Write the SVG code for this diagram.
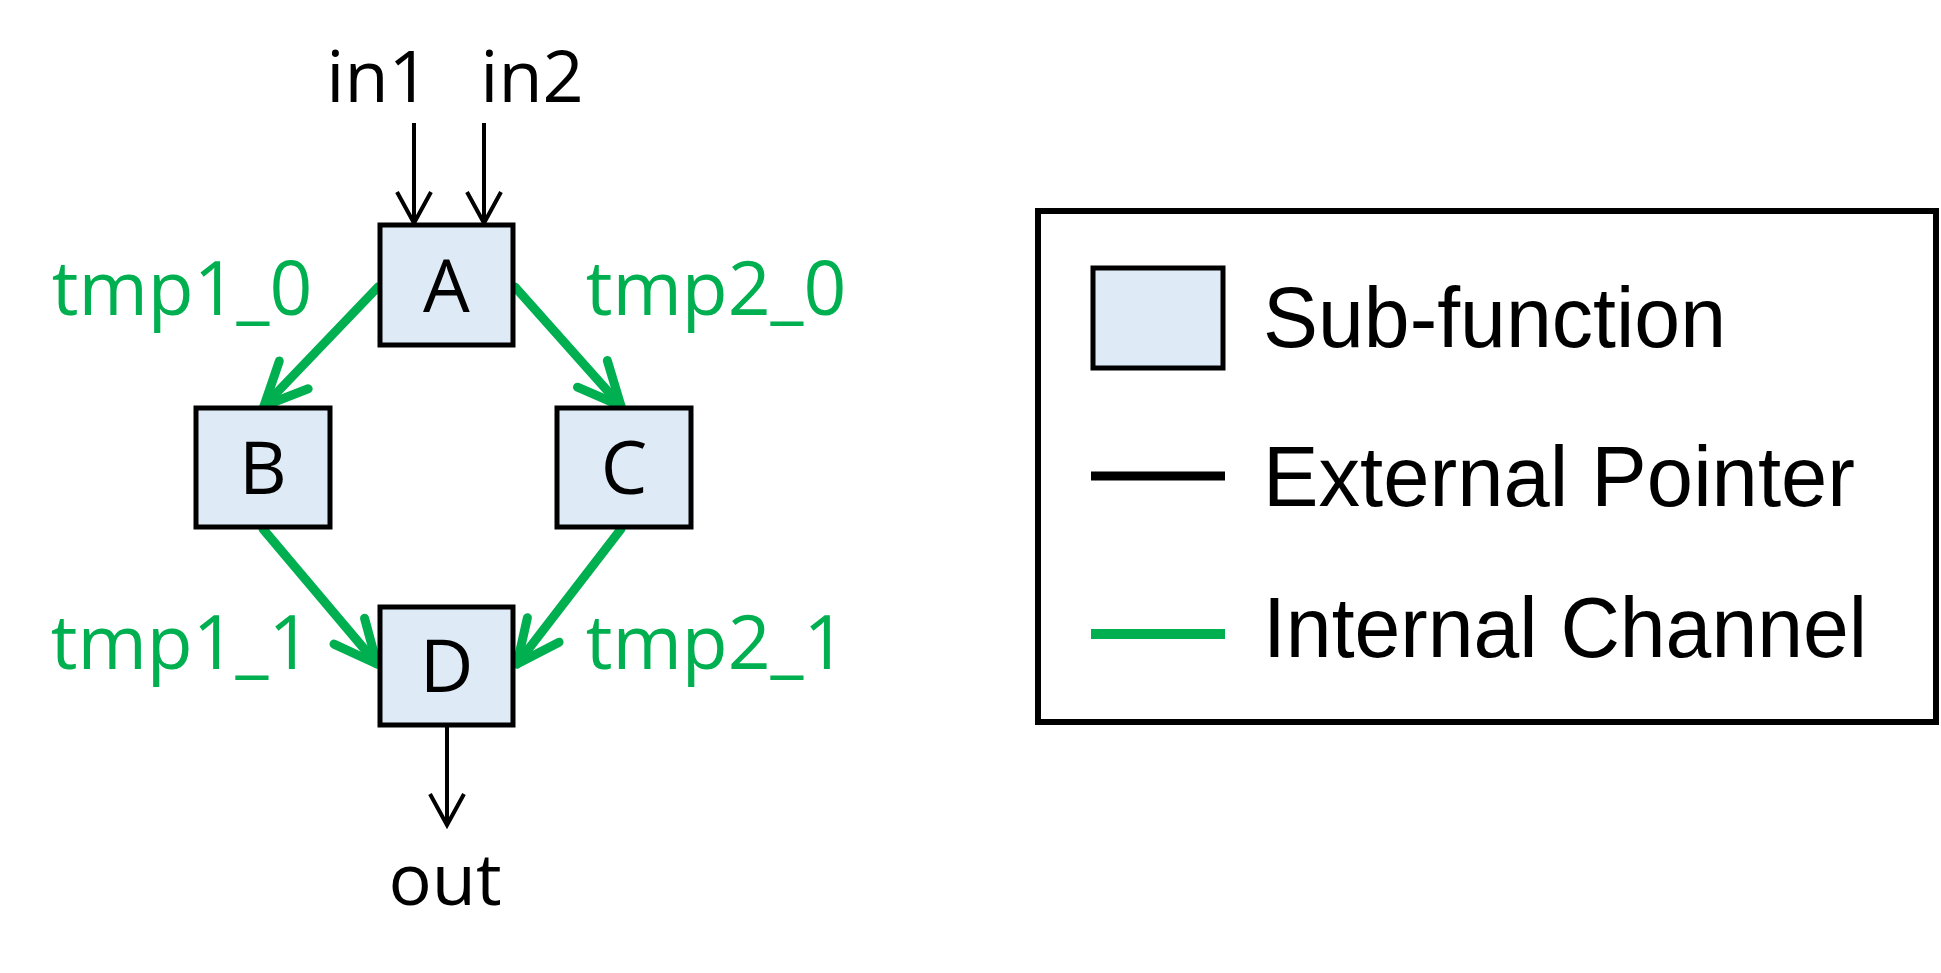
<svg xmlns="http://www.w3.org/2000/svg" width="1941" height="973" viewBox="0 0 1941 973">
<style>
.node{fill:#DEEAF6;stroke:#000;stroke-width:5}
.lbl{font-family:"Open Sans","Noto Sans",sans-serif;font-size:74px;fill:#000;text-anchor:middle}
.io{font-family:"Open Sans","Noto Sans",sans-serif;font-size:72px;fill:#000;text-anchor:middle}
.gl{font-family:"Open Sans","Noto Sans",sans-serif;font-size:75px;fill:#00B050;text-anchor:middle}
.ext{stroke:#000;stroke-width:4;fill:none}
.int{stroke:#00B050;stroke-width:9;fill:none;stroke-linecap:round}
.leg{font-family:"Liberation Sans",Arial,sans-serif;font-size:85px;fill:#000}
</style>
<defs>
<marker id="ah-ext" markerUnits="userSpaceOnUse" markerWidth="50" markerHeight="50" viewBox="-40 -25 50 50" refX="0" refY="0" orient="auto">
<path d="M -31 -17 L 0 0 L -31 17" fill="none" stroke="#000" stroke-width="4"/>
</marker>
<marker id="ah-int" markerUnits="userSpaceOnUse" markerWidth="70" markerHeight="70" viewBox="-55 -35 70 70" refX="0" refY="0" orient="auto">
<path d="M -43 -20 L 0 0 L -43 20" fill="none" stroke="#00B050" stroke-width="9" stroke-linecap="round" stroke-linejoin="round"/>
</marker>
</defs>

<g id="connectors">
<line class="ext" x1="414" y1="123" x2="414" y2="223" marker-end="url(#ah-ext)"/>
<line class="ext" x1="484" y1="123" x2="484" y2="223" marker-end="url(#ah-ext)"/>
<line class="ext" x1="447" y1="727" x2="447" y2="825" marker-end="url(#ah-ext)"/>
<line class="int" x1="378" y1="287" x2="264" y2="406" marker-end="url(#ah-int)"/>
<line class="int" x1="515" y1="287" x2="621" y2="406" marker-end="url(#ah-int)"/>
<line class="int" x1="263" y1="529" x2="377" y2="664" marker-end="url(#ah-int)"/>
<line class="int" x1="621" y1="529" x2="517" y2="664" marker-end="url(#ah-int)"/>
</g>

<g id="node-A"><rect class="node" x="380" y="225" width="133" height="120"/><text class="lbl" x="446.5" y="312">A</text></g>
<g id="node-B"><rect class="node" x="196" y="408" width="134" height="119"/><text class="lbl" x="263" y="494">B</text></g>
<g id="node-C"><rect class="node" x="557" y="408" width="134" height="119"/><text class="lbl" x="624" y="494">C</text></g>
<g id="node-D"><rect class="node" x="380" y="607" width="133" height="118"/><text class="lbl" x="446.5" y="692">D</text></g>

<g id="labels">
<text class="io" x="378" y="102">in1</text>
<text class="io" x="532" y="102">in2</text>
<text class="io" x="445" y="905">out</text>
<text class="gl" x="182" y="315">tmp1_0</text>
<text class="gl" x="716" y="315">tmp2_0</text>
<text class="gl" x="181" y="669">tmp1_1</text>
<text class="gl" x="716" y="669">tmp2_1</text>
</g>

<g id="legend">
<rect x="1038" y="211" width="898" height="511" fill="none" stroke="#000" stroke-width="6"/>
<rect class="node" x="1093" y="268" width="130" height="100"/>
<line x1="1091" y1="476" x2="1225" y2="476" stroke="#000" stroke-width="9"/>
<line x1="1091" y1="634" x2="1225" y2="634" stroke="#00B050" stroke-width="10"/>
<text class="leg" x="1263" y="347" textLength="463" lengthAdjust="spacingAndGlyphs">Sub-function</text>
<text class="leg" x="1263" y="506" textLength="592" lengthAdjust="spacingAndGlyphs">External Pointer</text>
<text class="leg" x="1263" y="657" textLength="604" lengthAdjust="spacingAndGlyphs">Internal Channel</text>
</g>
</svg>
